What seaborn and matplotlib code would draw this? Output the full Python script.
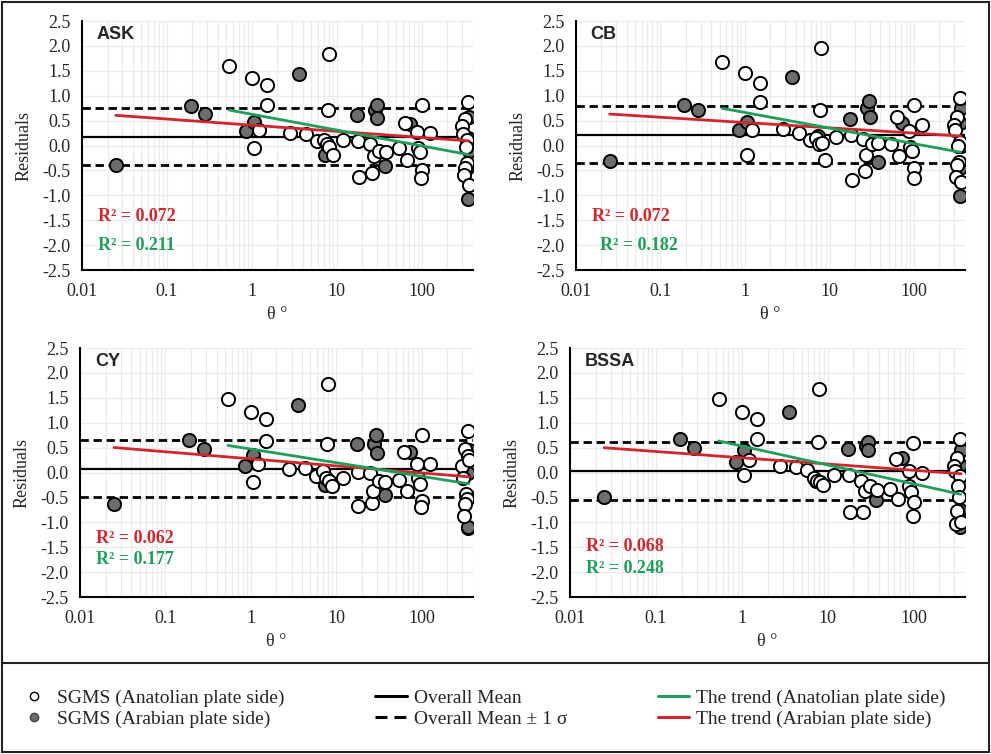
import numpy as np
import matplotlib.pyplot as plt
import seaborn as sns
from matplotlib.lines import Line2D
from matplotlib.patches import Rectangle
from matplotlib.ticker import FixedLocator, LogLocator, MultipleLocator, FuncFormatter, NullFormatter

sns.set_style("white")
plt.rcParams['font.family'] = ['Liberation Serif', 'DejaVu Serif']
plt.rcParams['axes.unicode_minus'] = False

# ==================== data ====================
MODELS = ["ASK", "CB", "CY", "BSSA"]

# station-to-fault angle theta (deg), Anatolian plate side
ANAT_THETA = [0.54, 1.01, 1.06, 1.22, 1.51, 1.52, 2.8, 4.3, 5.8, 7.0, 7.6, 7.8, 8.0, 8.2, 8.9,
              11.9, 17.9, 18.2, 24.6, 26, 27.2, 31.6, 37.6, 54, 63, 67, 88, 90, 95, 100, 101, 99, 125,
              350, 320, 300, 305, 345, 330, 340, 325, 315, 355]
# Arabian plate side
ARAB_THETA = [0.025, 0.19, 0.28, 0.85, 1.06, 3.6, 7.3, 17.5, 28, 29.5, 30, 37, 73,
              355, 350, 360, 345, 352]

ASK_ANAT = [1.60, 1.36, -0.04, 0.32, 1.21, 0.81, 0.26, 0.24, 0.10, 0.12, 0.04, 0.71, 1.83, -0.02, -0.19,
            0.11, 0.10, -0.63, 0.03, -0.56, -0.22, -0.12, -0.14, -0.04, 0.46, -0.29, 0.28, -0.05, -0.14,
            0.81, -0.49, -0.66, 0.26,
            0.88, 0.54, 0.40, 0.24, 0.12, -0.02, -0.35, -0.45, -0.60, -0.79]
CB_ANAT = [1.68, 1.45, -0.19, 0.32, 1.26, 0.87, 0.33, 0.26, 0.11, 0.15, 0.04, 0.71, 1.95, 0.06, -0.29,
           0.18, 0.21, -0.69, 0.14, -0.51, -0.19, 0.04, 0.06, 0.04, 0.57, -0.22, 0.29, -0.02, -0.12,
           0.81, -0.46, -0.66, 0.41,
           0.95, 0.58, 0.42, 0.31, 0.08, 0.00, -0.33, -0.39, -0.63, -0.73]
CY_ANAT = [1.48, 1.21, -0.19, 0.18, 1.07, 0.64, 0.07, 0.09, -0.07, 0.03, -0.10, 0.57, 1.78, -0.17, -0.27,
           -0.10, 0.02, -0.67, 0.00, -0.62, -0.38, -0.17, -0.20, -0.14, 0.42, -0.37, 0.18, -0.10, -0.23,
           0.75, -0.57, -0.70, 0.18,
           0.84, 0.47, 0.13, -0.10, 0.33, -0.43, -0.53, -0.63, -0.87, 0.25]
BSSA_ANAT = [1.48, 1.22, -0.05, 0.25, 1.08, 0.67, 0.13, 0.11, 0.05, -0.10, -0.17, 0.62, 1.67, -0.19, -0.25,
             -0.05, -0.05, -0.79, -0.18, -0.80, -0.37, -0.27, -0.35, -0.33, 0.27, -0.53, 0.03, -0.27, -0.40,
             0.60, -0.60, -0.87, 0.00,
             0.67, 0.30, 0.13, 0.03, -0.07, -0.27, -0.50, -0.77, -1.04, -1.00]

ASK_ARAB = [-0.40, 0.79, 0.63, 0.30, 0.48, 1.43, -0.20, 0.62, 0.71, 0.81, 0.56, -0.41, 0.43,
            0.58, 0.15, -0.10, -0.45, -1.08]
CB_ARAB = [-0.31, 0.81, 0.71, 0.31, 0.48, 1.37, 0.19, 0.53, 0.75, 0.90, 0.57, -0.34, 0.45,
           0.75, 0.45, 0.00, -0.45, -1.02]
CY_ARAB = [-0.64, 0.65, 0.47, 0.13, 0.35, 1.36, -0.25, 0.58, 0.57, 0.76, 0.40, -0.45, 0.42,
           0.45, 0.00, -0.50, -1.12, -1.10]
BSSA_ARAB = [-0.50, 0.67, 0.49, 0.22, 0.45, 1.22, -0.18, 0.47, 0.53, 0.61, 0.45, -0.55, 0.30,
             0.45, 0.15, -0.15, -0.75, -1.09]

ANAT_VALUES = [ASK_ANAT, CB_ANAT, CY_ANAT, BSSA_ANAT]
ARAB_VALUES = [ASK_ARAB, CB_ARAB, CY_ARAB, BSSA_ARAB]

OVERALL_MEAN = [0.18, 0.22, 0.08, 0.03]
OVERALL_SIGMA = [0.57, 0.57, 0.57, 0.59]

R2_ARAB = ["0.072", "0.072", "0.062", "0.068"]
R2_ANAT = ["0.211", "0.182", "0.177", "0.248"]

X_TICKS = [0.01, 0.1, 1, 10, 100]

# ==================== style ====================
RED = "#d0262d"
GREEN = "#1f9e5a"
GREY = "#6d6d6d"
GRID = "#ebebeb"

# [left, bottom, width, height] in figure fraction
AX_POS = [[0.0827, 0.6419, 0.3945, 0.3302],
          [0.5812, 0.6419, 0.3925, 0.3302],
          [0.0807, 0.2082, 0.3966, 0.3302],
          [0.5752, 0.2082, 0.3986, 0.3302]]
R2_POS = [((0.041, 0.213), (0.041, 0.100)),
          ((0.041, 0.213), (0.062, 0.100)),
          ((0.041, 0.237), (0.041, 0.149)),
          ((0.041, 0.202), (0.041, 0.116))]

fig = plt.figure(figsize=(9.91, 7.54), dpi=100)

for i, model in enumerate(MODELS):
    ax = fig.add_axes(AX_POS[i])
    ax.set_xscale('log')

    ax.grid(True, which='both', axis='x', color=GRID, lw=0.9)
    ax.grid(True, which='major', axis='y', color=GRID, lw=0.9)
    ax.set_axisbelow(True)

    m, s = OVERALL_MEAN[i], OVERALL_SIGMA[i]
    ax.axhline(m, color='black', lw=1.6, zorder=2)
    for yv in (m + s, m - s):
        ax.axhline(yv, color='black', lw=2.0, dashes=(3.0, 1.7), zorder=2)

    sns.scatterplot(x=ARAB_THETA, y=ARAB_VALUES[i], ax=ax, s=90, color=GREY,
                    edgecolor='black', linewidth=1.4, zorder=3, legend=False)
    sns.scatterplot(x=ANAT_THETA, y=ANAT_VALUES[i], ax=ax, s=90, color='white',
                    edgecolor='black', linewidth=1.4, zorder=3, legend=False)

    # log trend lines, fitted on the points
    sns.regplot(x=ARAB_THETA, y=ARAB_VALUES[i], ax=ax, logx=True, scatter=False, ci=None,
                line_kws=dict(color=RED, lw=2.0, zorder=4))
    sns.regplot(x=ANAT_THETA, y=ANAT_VALUES[i], ax=ax, logx=True, scatter=False, ci=None,
                line_kws=dict(color=GREEN, lw=2.0, zorder=4))

    ax.set_xlim(0.01, 400)
    ax.set_ylim(-2.5, 2.5)

    ax.xaxis.set_major_locator(FixedLocator(X_TICKS))
    ax.xaxis.set_major_formatter(FuncFormatter(lambda v, p: f"{v:g}"))
    ax.xaxis.set_minor_locator(LogLocator(base=10, subs=np.arange(2, 10)))
    ax.xaxis.set_minor_formatter(NullFormatter())
    ax.yaxis.set_major_locator(MultipleLocator(0.5))
    ax.yaxis.set_minor_locator(MultipleLocator(0.1))
    ax.yaxis.set_major_formatter(FuncFormatter(lambda v, p: f"{v:.1f}"))

    ax.tick_params(axis='both', which='major', direction='inout', length=8, width=1.3,
                   labelsize=13, color='black')
    ax.tick_params(axis='y', which='minor', direction='inout', length=4, width=1.0)
    ax.tick_params(axis='x', which='minor', direction='in', length=4, width=1.0)
    ax.tick_params(axis='y', which='major', pad=4)
    ax.tick_params(axis='x', which='major', pad=5)

    for side in ('top', 'right'):
        ax.spines[side].set_visible(False)
    for side in ('left', 'bottom'):
        ax.spines[side].set_color('black')
        ax.spines[side].set_linewidth(1.5)

    ax.set_xlabel('θ °', fontsize=13, labelpad=5)
    ax.set_ylabel('Residuals', fontsize=13, labelpad=7)

    ax.text(0.038, 0.945, model, transform=ax.transAxes, fontsize=13, fontweight='bold',
            family=['Liberation Sans', 'DejaVu Sans'], va='center', ha='left')
    (rx, ry), (gx, gy) = R2_POS[i]
    ax.text(rx, ry, f"R² = {R2_ARAB[i]}", transform=ax.transAxes, color=RED,
            fontsize=13, fontweight='bold', va='center', ha='left')
    ax.text(gx, gy, f"R² = {R2_ANAT[i]}", transform=ax.transAxes, color=GREEN,
            fontsize=13, fontweight='bold', va='center', ha='left')

# frame and separator
fig.add_artist(Rectangle((0.002, 0.003), 0.996, 0.994, transform=fig.transFigure,
                         fill=False, ec='#222222', lw=1.5))
fig.add_artist(Line2D([0.002, 0.998], [0.1207, 0.1207], transform=fig.transFigure,
                      color='#222222', lw=1.5))

handles = [
    Line2D([], [], marker='o', ls='none', mfc='white', mec='black', ms=6, mew=1.0),
    Line2D([], [], marker='o', ls='none', mfc=GREY, mec='#444444', ms=6, mew=1.0),
    Line2D([], [], color='black', lw=2.2),
    Line2D([], [], color='black', lw=2.2, dashes=(3.9, 2.3)),
    Line2D([], [], color=GREEN, lw=2.2),
    Line2D([], [], color=RED, lw=2.2),
]
labels = ["SGMS (Anatolian plate side)", "SGMS (Arabian plate side)",
          "Overall Mean", "Overall Mean ± 1 σ",
          "The trend (Anatolian plate side)", "The trend (Arabian plate side)"]
fig.legend(handles, labels, ncol=3, loc='center left', bbox_to_anchor=(0.001, 0.060),
           frameon=False, fontsize=14, handlelength=1.6, handletextpad=0.36,
           columnspacing=4.7, labelspacing=0.19)

fig.savefig("out.png", dpi=100)
